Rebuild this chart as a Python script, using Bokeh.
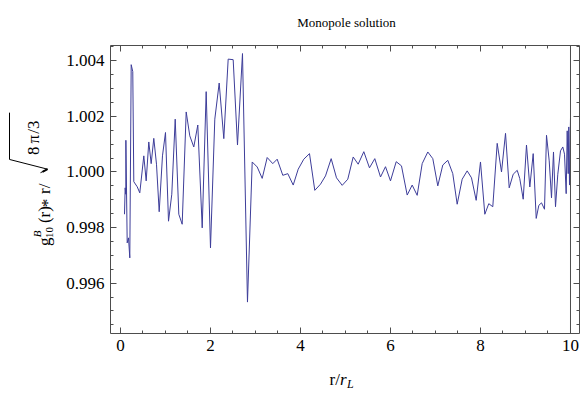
import math
from bokeh.plotting import figure
from bokeh.layouts import row, column
from bokeh.models import Range1d, LinearAxis, SingleIntervalTicker, NumeralTickFormatter, Span
from bokeh.core.properties import value
from bokeh.embed import file_html
from bokeh.resources import INLINE

# r / r_L
r = [0.089, 0.104, 0.118, 0.120, 0.149, 0.178, 0.207, 0.238, 0.273, 0.296,
     0.371, 0.429, 0.518, 0.571, 0.629, 0.682, 0.740, 0.800, 0.860, 0.933,
     1.000, 1.067, 1.140, 1.216, 1.296, 1.371, 1.460, 1.540, 1.629, 1.718,
     1.816, 1.904, 2.000, 2.096, 2.193, 2.296, 2.393, 2.504, 2.600, 2.711,
     2.822, 2.927, 3.038, 3.149, 3.260, 3.384, 3.482, 3.607, 3.718, 3.838,
     3.949, 4.073, 4.200, 4.318, 4.444, 4.556, 4.682, 4.800, 4.927, 5.051,
     5.171, 5.282, 5.407, 5.533, 5.651, 5.778, 5.889, 6.000, 6.127, 6.244,
     6.371, 6.482, 6.593, 6.704, 6.829, 6.940, 7.051, 7.162, 7.273, 7.384,
     7.482, 7.593, 7.704, 7.800, 7.904, 8.000, 8.096, 8.184, 8.273, 8.371,
     8.467, 8.556, 8.638, 8.727, 8.816, 8.873, 8.949, 9.022, 9.096, 9.171,
     9.238, 9.296, 9.356, 9.422, 9.467, 9.527, 9.578, 9.622, 9.667, 9.718,
     9.778, 9.829, 9.867, 9.904, 9.927, 9.949, 9.962, 9.978, 10.000]

# g_10^B(r) * r / sqrt(8 pi / 3)
g = [0.99848, 0.99943, 0.99920, 1.00114, 0.99745, 0.99763, 0.99691, 1.00386, 1.00361, 0.99965,
     0.99947, 0.99925, 1.00058, 0.99968, 1.00108, 1.00030, 1.00121, 1.00028, 0.99857, 1.00058,
     1.00142, 0.99823, 0.99920, 1.00190, 0.99848, 0.99812, 1.00216, 1.00130, 1.00090, 1.00169,
     0.99799, 1.00289, 0.99727, 1.00190, 1.00320, 1.00120, 1.00406, 1.00404, 1.00097, 1.00426,
     0.99532, 1.00036, 1.00018, 0.99977, 1.00052, 1.00030, 1.00046, 0.99988, 0.99994, 0.99953,
     1.00010, 1.00046, 1.00066, 0.99934, 0.99956, 0.99986, 1.00048, 0.99979, 0.99952, 0.99974,
     1.00054, 1.00028, 1.00073, 1.00015, 1.00048, 0.99982, 1.00019, 0.99968, 1.00037, 1.00022,
     0.99917, 0.99953, 0.99916, 1.00030, 1.00072, 1.00048, 0.99950, 1.00025, 1.00042, 0.99994,
     0.99884, 0.99974, 1.00004, 0.99979, 0.99898, 1.00036, 0.99848, 0.99886, 0.99875, 1.00103,
     1.00000, 1.00139, 0.99943, 0.99992, 1.00006, 0.99976, 0.99902, 1.00097, 0.99946, 1.00066,
     0.99833, 0.99880, 0.99889, 0.99866, 1.00132, 1.00040, 0.99907, 1.00072, 0.99875, 0.99992,
     1.00076, 1.00090, 1.00064, 0.99922, 1.00148, 0.99994, 1.00162, 0.99953, 1.00194]

title_text = "Monopole solution"
x_ticks_major = 2
y_ticks_major = 0.002
x_end_marker = 10

SERIF = "Liberation Serif"
FRAME = "#4d4d4d"
LINE = "#3d3d99"

XMIN, XMAX = -0.222, 10.2
YMIN, YMAX = 0.99419, 1.00455

W, H = 580, 394
LEFT_W = 56            # width of the y-label strip
MAIN_W = W - LEFT_W
TOP_H = 37             # title strip height
BOT_H = 31             # x-label strip height
MID_H = H - TOP_H - BOT_H

# ---------------- main plot (frame at canvas x 110..579, y 45..333) ----------------
p = figure(width=MAIN_W, height=MID_H, output_backend="svg", toolbar_location=None, title=None,
           x_range=Range1d(XMIN, XMAX), y_range=Range1d(YMIN, YMAX),
           x_axis_location=None, y_axis_location=None,
           min_border_left=110 - LEFT_W, min_border_right=1, min_border_top=45 - TOP_H,
           min_border_bottom=TOP_H + MID_H - 333)
p.grid.visible = False
p.outline_line_color = FRAME
p.outline_line_width = 1
p.background_fill_color = "white"
p.border_fill_color = "white"

def style_axis(ax, labels=True):
    ax.axis_line_color = None
    ax.major_tick_in = 6
    ax.major_tick_out = 0
    ax.minor_tick_in = 3
    ax.minor_tick_out = 0
    ax.major_tick_line_color = FRAME
    ax.minor_tick_line_color = FRAME
    ax.major_label_text_font = SERIF
    if labels:
        ax.major_label_text_color = "black"
        ax.major_label_text_font_size = "17px"
        ax.major_label_standoff = 6
    else:
        ax.major_label_text_color = None
        ax.major_label_text_alpha = 0
        ax.major_label_text_font_size = "1px"
        ax.major_label_standoff = 0

xb = LinearAxis(ticker=SingleIntervalTicker(interval=x_ticks_major, num_minor_ticks=4))
xt = LinearAxis(ticker=SingleIntervalTicker(interval=x_ticks_major, num_minor_ticks=4))
yl = LinearAxis(ticker=SingleIntervalTicker(interval=y_ticks_major, num_minor_ticks=4),
                formatter=NumeralTickFormatter(format="0.000"))
yr = LinearAxis(ticker=SingleIntervalTicker(interval=y_ticks_major, num_minor_ticks=4))
style_axis(xb); style_axis(yl)
style_axis(xt, False); style_axis(yr, False)
p.add_layout(xb, "below")
p.add_layout(xt, "above")
p.add_layout(yl, "left")
p.add_layout(yr, "right")

p.add_layout(Span(location=x_end_marker, dimension="height", line_color=FRAME, line_width=1))
p.line(r, g, line_color=LINE, line_width=1.0)

# ---------------- text strips (pixel-like coordinate frames, canvas coords) ----------------
def strip(w, h, x0, y0):
    f = figure(width=w, height=h, output_backend="svg", toolbar_location=None, title=None,
               x_range=Range1d(x0, x0 + w), y_range=Range1d(y0 + h, y0),
               x_axis_location=None, y_axis_location=None, min_border=0)
    f.grid.visible = False
    f.outline_line_color = None
    f.background_fill_color = "white"
    f.border_fill_color = "white"
    return f

def txt(f, items, size, style="normal", angle=0.0, align="left", baseline="alphabetic"):
    f.text(x=[i[1] for i in items], y=[i[2] for i in items], text=[i[0] for i in items],
           angle=angle, text_font=value(SERIF), text_font_size=value(f"{size}px"),
           text_font_style=style, text_color="black",
           text_align=align, text_baseline=baseline)

# title strip (full width)
lt = strip(W, TOP_H, 0, 0)
txt(lt, [(title_text, 346, 22)], 13, align="center")

# y label strip: g_10^B(r)*r/ sqrt(8 pi/3), read bottom-to-top
A = math.pi / 2
ly = strip(LEFT_W, MID_H, 0, TOP_H)
txt(ly, [("g", 44, 264), ("(r)", 44, 238), ("*", 47, 220), ("r/", 44, 205)], 17, angle=A)
txt(ly, [("10", 49, 255)], 11, angle=A)
txt(ly, [("B", 36, 254)], 11, "italic", angle=A)
txt(ly, [("8", 33, 161), ("\u03c0", 33, 148), ("/3", 33, 137)], 17, angle=A)
# radical sign drawn as strokes
ly.line(x=[40, 47, 9, 9], y=[181, 177, 166, 113], line_color="black", line_width=1.0)
ly.line(x=[42, 47], y=[180, 177], line_color="black", line_width=2.0)

# x label strip (full width): r/r_L
lx = strip(W, BOT_H, 0, TOP_H + MID_H)
txt(lx, [("r/", 329, 379)], 17)
txt(lx, [("r", 339.5, 379)], 17, "italic")
txt(lx, [("L", 346.5, 383)], 12, "italic")

layout = column(lt, row(ly, p, spacing=0), lx, spacing=0)

html = file_html(layout, INLINE)
open("out.html", "w").write(html)
